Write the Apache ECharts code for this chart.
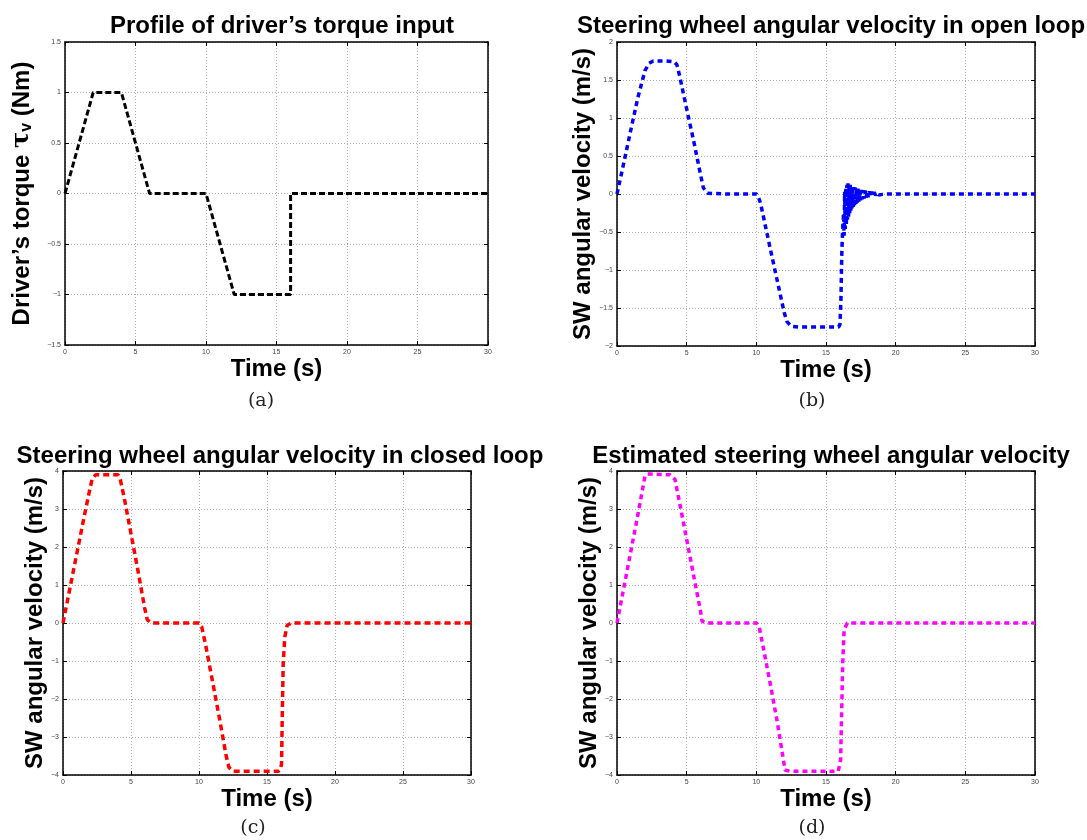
<!DOCTYPE html>
<html>
<head>
<meta charset="utf-8">
<script src="https://cdn.jsdelivr.net/npm/echarts@6/dist/echarts.min.js"></script>
<style>
  html, body { margin: 0; padding: 0; background: #fff; }
  #chart { width: 1087px; height: 840px; }
</style>
</head>
<body>
<div id="chart"></div>
<script>
// time axis shared by all four panels
const timeMin = 0, timeMax = 30, timeStep = 5;

// (a) driver's torque input
const torqueT = [0, 2, 4, 6, 10, 12, 16, 16, 30];
const torqueV = [0, 1, 1, 0, 0, -1, -1, 0, 0];

// (b) SW angular velocity, open loop (with the ringing after 16 s)
const openT = [0, 0.5, 1, 1.5, 2, 2.3, 2.6, 3.5, 4.1, 4.3, 4.5, 5, 5.5, 6, 6.2, 6.5, 8, 10, 10.15, 10.3, 11, 11.5, 12, 12.2, 12.5, 13, 15.9, 16, 16.07, 16.14, 16.2, 16.26,
  16.3, 16.34, 16.38, 16.42, 16.46, 16.5, 16.54, 16.58, 16.62, 16.66, 16.7, 16.74, 16.78, 16.82, 16.86, 16.9, 16.95, 17, 17.05, 17.1, 17.15, 17.2, 17.25, 17.3,
  17.36, 17.42, 17.48, 17.54, 17.6, 17.67, 17.74, 17.81, 17.88, 17.95, 18.03, 18.11, 18.19, 18.28, 18.37, 18.46, 18.56, 18.66, 18.78, 18.9, 19.05, 19.3, 30];
const openV = [0, 0.42, 0.85, 1.27, 1.62, 1.72, 1.75, 1.75, 1.74, 1.7, 1.55, 1.12, 0.7, 0.25, 0.08, 0.01, 0, 0, -0.04, -0.12, -0.72, -1.14, -1.56, -1.68, -1.74, -1.75, -1.75, -1.72, -1.4, -0.74, -0.45, -0.26,
  -0.55, 0.03, -0.46, 0.09, -0.4, 0.12, -0.34, 0.14, -0.3, 0.13, -0.26, 0.12, -0.22, 0.11, -0.19, 0.1, -0.17, 0.09, -0.15, 0.085, -0.13, 0.08, -0.115, 0.07,
  -0.1, 0.06, -0.085, 0.055, -0.07, 0.05, -0.06, 0.045, -0.05, 0.04, -0.04, 0.035, -0.03, 0.03, -0.025, 0.022, -0.018, 0.015, -0.012, 0.01, -0.005, 0, 0];

// (c) SW angular velocity, closed loop
const closedT = [0, 0.5, 1, 1.5, 1.96, 2.15, 2.4, 4.05, 4.2, 4.5, 5, 5.5, 6, 6.2, 6.5, 10, 10.2, 10.5, 11, 11.5, 12, 12.2, 12.5, 15.85, 16, 16.07, 16.12, 16.19, 16.31, 16.48, 16.8, 30];
const closedV = [0, 0.9, 1.8, 2.7, 3.5, 3.8, 3.9, 3.9, 3.8, 3.3, 2.35, 1.4, 0.4, 0.08, 0, 0, -0.1, -0.6, -1.55, -2.5, -3.5, -3.8, -3.9, -3.9, -3.85, -3.7, -2.5, -1.07, -0.37, -0.06, 0, 0];

// (d) estimated SW angular velocity
const estT = [0, 0.5, 1, 1.5, 2.01, 2.2, 2.4, 3.8, 4.16, 4.5, 5, 5.5, 6, 6.1, 6.4, 10, 10.2, 10.5, 11, 11.5, 12.06, 12.2, 12.4, 15.88, 16, 16.05, 16.12, 16.2, 16.3, 16.53, 30];
const estV = [0, 0.95, 1.9, 2.85, 3.87, 3.92, 3.92, 3.9, 3.78, 3.15, 2.2, 1.25, 0.3, 0.05, 0, 0, -0.1, -0.65, -1.6, -2.6, -3.87, -3.9, -3.9, -3.9, -3.85, -3.6, -2.4, -1.05, -0.18, 0, 0];

const titles = [
  "Profile of driver\u2019s torque input",
  "Steering wheel angular velocity in open loop",
  "Steering wheel angular velocity in closed loop",
  "Estimated steering wheel angular velocity"
];
const yNames = [
  "{a|Driver\u2019s torque }{t|\u03c4}{s|v}{a| (Nm)}",
  "SW angular velocity (m/s)",
  "SW angular velocity (m/s)",
  "SW angular velocity (m/s)"
];
const yRanges = [[-1.5, 1.5, 0.5], [-2, 2, 0.5], [-4, 4, 1], [-4, 4, 1]];
const panelTags = ["(a)", "(b)", "(c)", "(d)"];

const grids = [
  { left: 65, top: 42, width: 423, height: 303 },
  { left: 617, top: 42, width: 418, height: 304 },
  { left: 63, top: 471, width: 408, height: 304 },
  { left: 617, top: 471, width: 418, height: 304 }
];
const nameGaps = [30, 20, 12, 14];
const titleX = [277, 826, 275, 826];
const titleY = [9, 9, 439, 439];
const tagX = [261, 812, 253, 812];
const tagY = [401, 401, 828, 828];

const seriesSets = [
  { t: torqueT, v: torqueV, color: "#000000", dash: [6, 3], width: 3 },
  { t: openT, v: openV, color: "#0000ff", dash: [5, 4], width: 3.5 },
  { t: closedT, v: closedV, color: "#ff0000", dash: [6, 4], width: 3.5 },
  { t: estT, v: estV, color: "#ff00ff", dash: [5, 4], width: 3.5 }
];

const FONT = "Liberation Sans, Arial, sans-serif";
const minus = (val) => String(val).replace("-", "\u2212");
const gridLine = { show: true, lineStyle: { color: "#aaaaaa", type: [1, 2], width: 1 } };
const blackLine = { show: true, onZero: false, lineStyle: { color: "#000", width: 1.5 } };
const tick = { show: true, inside: true, length: 4, lineStyle: { color: "#000", width: 1 } };

var xAxes = [], yAxes = [], series = [], titleList = [], graphics = [];

grids.forEach((g, i) => {
  var r = yRanges[i];
  xAxes.push({
    type: "value", gridIndex: i, position: "bottom",
    min: timeMin, max: timeMax, interval: timeStep,
    axisLine: blackLine, axisTick: tick, splitLine: gridLine,
    axisLabel: { fontSize: 7, color: "#444", margin: 4, fontFamily: FONT },
    name: "Time (s)", nameLocation: "middle", nameGap: 9,
    nameTextStyle: { fontSize: 24, fontWeight: "bold", color: "#000", fontFamily: FONT }
  });
  xAxes.push({
    type: "value", gridIndex: i, position: "top",
    min: timeMin, max: timeMax, interval: timeStep,
    axisLine: blackLine, axisTick: tick, splitLine: { show: false }, axisLabel: { show: false }
  });
  yAxes.push({
    type: "value", gridIndex: i, position: "left",
    min: r[0], max: r[1], interval: r[2],
    axisLine: blackLine, axisTick: tick, splitLine: gridLine,
    axisLabel: { fontSize: 7, color: "#444", margin: 4, fontFamily: FONT, formatter: minus },
    name: yNames[i], nameLocation: "middle", nameGap: nameGaps[i],
    nameTextStyle: {
      fontSize: 24, fontWeight: "bold", color: "#000", fontFamily: FONT,
      rich: {
        a: { fontSize: 24, fontWeight: "bold", fontFamily: FONT, color: "#000" },
        t: { fontSize: 24, fontFamily: "DejaVu Serif", color: "#000" },
        s: { fontSize: 16, fontWeight: "bold", fontFamily: FONT, color: "#000", padding: [10, 0, 0, 0] }
      }
    }
  });
  yAxes.push({
    type: "value", gridIndex: i, position: "right",
    min: r[0], max: r[1], interval: r[2],
    axisLine: blackLine, axisTick: tick, splitLine: { show: false }, axisLabel: { show: false }
  });

  var s = seriesSets[i];
  series.push({
    type: "line",
    xAxisIndex: 2 * i, yAxisIndex: 2 * i,
    data: s.t.map((t, k) => [t, s.v[k]]),
    showSymbol: false, symbol: "none",
    lineStyle: { color: s.color, width: s.width, type: s.dash, cap: "butt" },
    z: 5
  });

  titleList.push({
    text: titles[i], left: titleX[i], top: titleY[i], textAlign: "center",
    textStyle: { fontSize: 24, fontWeight: "bold", color: "#000", fontFamily: FONT }
  });

  graphics.push({
    type: "text", x: tagX[i], y: tagY[i],
    style: {
      text: panelTags[i], fill: "#222", font: "19px 'DejaVu Serif', serif",
      textAlign: "center", textVerticalAlign: "middle"
    }
  });
});

const option = {
  animation: false,
  backgroundColor: "#ffffff",
  title: titleList,
  grid: grids,
  xAxis: xAxes,
  yAxis: yAxes,
  series: series,
  graphic: graphics
};

var myChart = echarts.init(document.getElementById("chart"));
myChart.setOption(option);
</script>
</body>
</html>
